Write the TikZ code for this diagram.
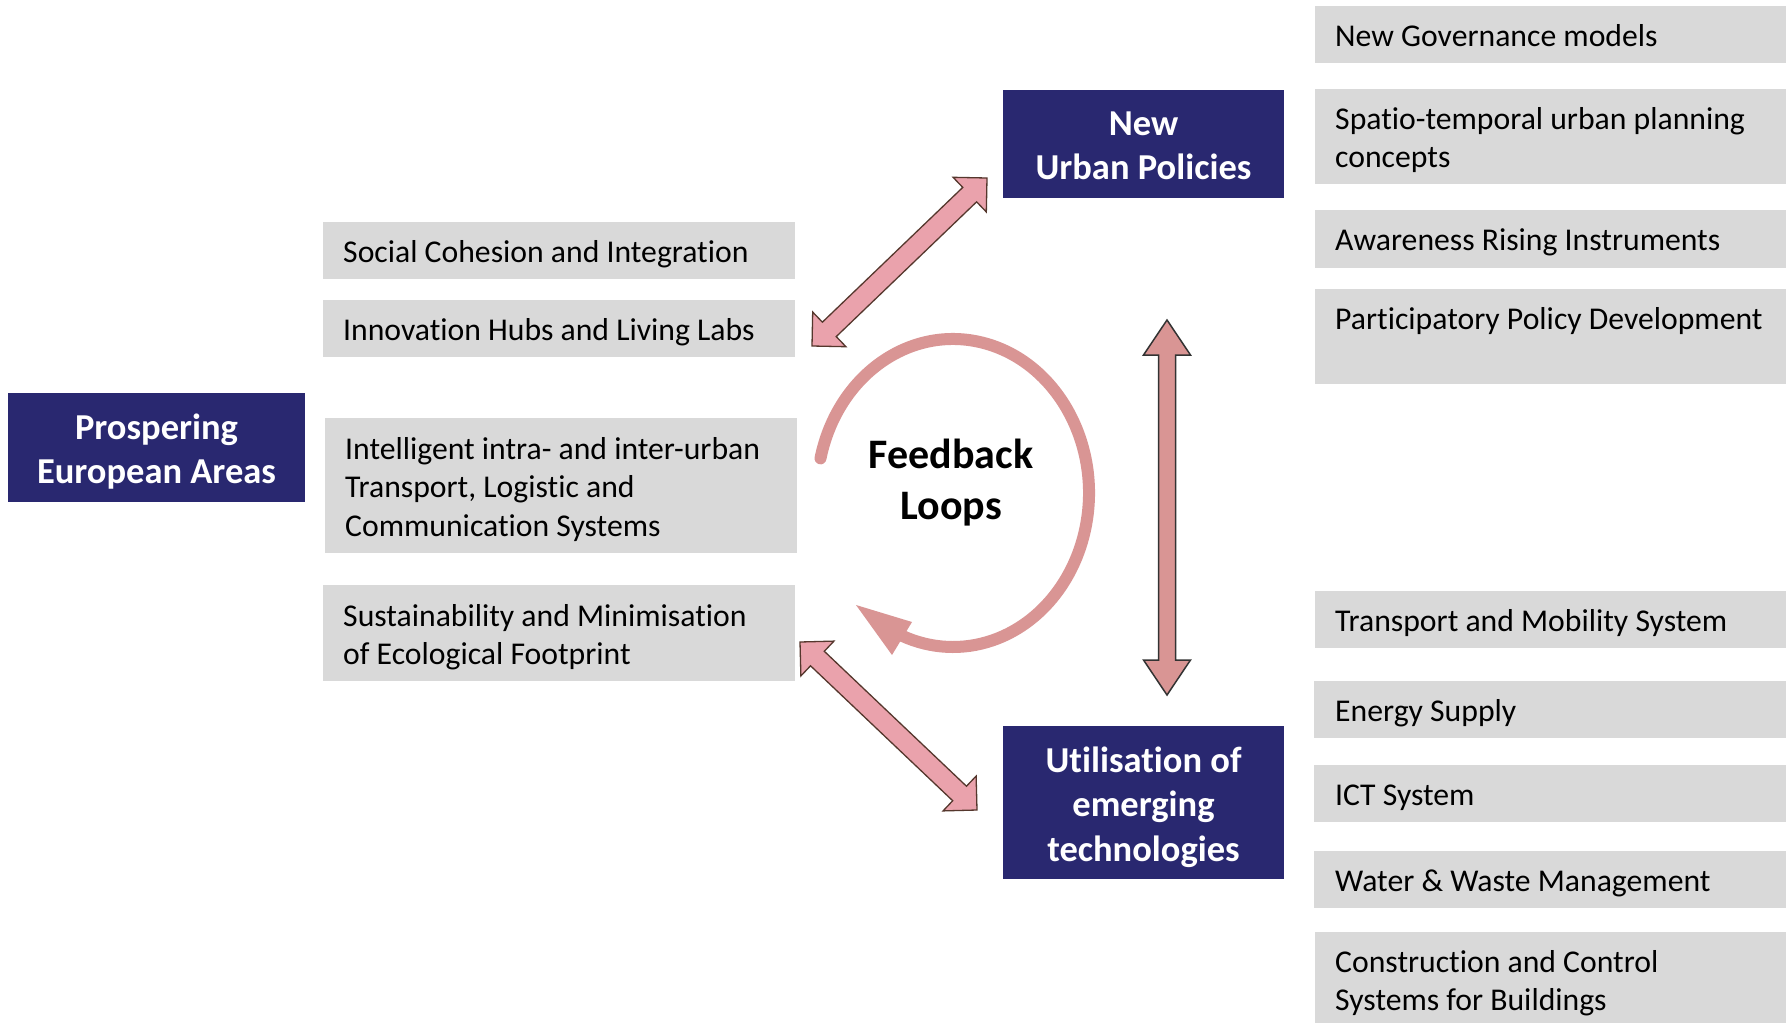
\documentclass[tikz,border=0pt]{standalone}
\usepackage{fontspec}
\setmainfont{Carlito}[Ligatures=NoCommon]
\usetikzlibrary{calc}
\definecolor{navy}{RGB}{41,40,112}
\definecolor{boxgray}{RGB}{217,217,217}
\definecolor{rose}{RGB}{217,149,148}
\definecolor{pinkfill}{RGB}{234,162,172}
\definecolor{arrowedge}{RGB}{85,55,45}
\newcommand\strA{\rule{0pt}{28pt}}
\newcommand\strB{\rule{0pt}{32pt}}
\newcommand\strC{\rule{0pt}{37pt}}
\newcommand\dblarrow[6]{%
  \coordinate (#1h) at ($(#1)!#5!(#2)$);
  \coordinate (#2h) at ($(#2)!#5!(#1)$);
  \draw[#6] (#1) -- ($(#1h)!#4!90:(#2)$) -- ($(#1h)!#3!90:(#2)$)
    -- ($(#2h)!#3!-90:(#1)$) -- ($(#2h)!#4!-90:(#1)$) -- (#2)
    -- ($(#2h)!#4!90:(#1)$) -- ($(#2h)!#3!90:(#1)$)
    -- ($(#1h)!#3!-90:(#2)$) -- ($(#1h)!#4!-90:(#2)$) -- cycle;
}
\tikzset{
  graybox/.style={fill=boxgray, draw=none, inner sep=0pt, outer sep=0pt, anchor=north west},
  bluebox/.style={fill=navy, draw=none, inner sep=0pt, outer sep=0pt, anchor=north west},
  graytext/.style={anchor=north west, inner sep=0pt, align=left, text=black,
    font=\fontsize{31.7}{38.7}\selectfont},
  bluetext/.style={anchor=north, inner sep=0pt, align=center, text=white,
    font=\bfseries\fontsize{36.5}{44.5}\selectfont},
  loopstext/.style={anchor=north, inner sep=0pt, align=center, text=black,
    font=\bfseries\fontsize{42}{51.5}\selectfont},
  diagarrow/.style={fill=pinkfill, draw=arrowedge, line width=1.3pt, line join=miter},
  vertarrow/.style={fill=rose, draw=black!80, line width=1.5pt, line join=miter},
}
\begin{document}
\begin{tikzpicture}[x=1pt,y=-1pt]
\useasboundingbox (0,0) rectangle (1786,1023);
\fill[white] (0,0) rectangle (1786,1023);

% left column boxes
\node[graybox, minimum width=472pt, minimum height=57pt] (social) at (323,222) {};
\node[graybox, minimum width=472pt, minimum height=57pt] (innov) at (323,300) {};
\node[graybox, minimum width=472pt, minimum height=135pt] (intel) at (325,418) {};
\node[graybox, minimum width=472pt, minimum height=96pt] (sustain) at (323,585) {};
\node[graytext] (socialt) at (343,234) {\strA Social Cohesion and Integration};
\node[graytext] (innovt) at (343,312) {\strA Innovation Hubs and Living Labs};
\node[graytext] (intelt) at (345,431) {\strA Intelligent intra- and inter-urban\\Transport, Logistic and\\Communication Systems};
\node[graytext] (sustaint) at (343,598) {\strA Sustainability and Minimisation\\of Ecological Footprint};

% right column boxes
\node[graybox, minimum width=471pt, minimum height=57pt] (gov) at (1315,6) {};
\node[graybox, minimum width=471pt, minimum height=95pt] (spatio) at (1315,89) {};
\node[graybox, minimum width=471pt, minimum height=58pt] (aware) at (1315,210) {};
\node[graybox, minimum width=471pt, minimum height=95pt] (partic) at (1315,289) {};
\node[graybox, minimum width=471pt, minimum height=57pt] (transp) at (1315,591) {};
\node[graybox, minimum width=472pt, minimum height=57pt] (energy) at (1314,681) {};
\node[graybox, minimum width=472pt, minimum height=57pt] (ict) at (1314,765) {};
\node[graybox, minimum width=472pt, minimum height=57pt] (water) at (1314,851) {};
\node[graybox, minimum width=471pt, minimum height=91pt] (constr) at (1315,932) {};
\node[graytext] (govt) at (1335,18) {\strA New Governance models};
\node[graytext] (spatiot) at (1335,101) {\strA Spatio-temporal urban planning\\concepts};
\node[graytext] (awaret) at (1335,222) {\strA Awareness Rising Instruments};
\node[graytext] (partict) at (1335,301) {\strA Participatory Policy Development};
\node[graytext] (transpt) at (1335,603) {\strA Transport and Mobility System};
\node[graytext] (energyt) at (1335,693) {\strA Energy Supply};
\node[graytext] (ictt) at (1335,777) {\strA ICT System};
\node[graytext] (watert) at (1335,863) {\strA Water \& Waste Management};
\node[graytext] (constrt) at (1335,944) {\strA Construction and Control\\Systems for Buildings};

% blue boxes
\node[bluebox, minimum width=297pt, minimum height=109pt] (prosp) at (8,393) {};
\node[bluebox, minimum width=281pt, minimum height=108pt] (policies) at (1003,90) {};
\node[bluebox, minimum width=281pt, minimum height=153pt] (util) at (1003,726) {};
\node[bluetext] (prospt) at (156.5,407) {\strB Prospering\\European Areas};
\node[bluetext] (policiest) at (1143.5,103) {\strB New\\Urban Policies};
\node[bluetext] (utilt) at (1143.5,740) {\strB Utilisation of\\emerging\\technologies};

% feedback loop
\node[loopstext] (loops) at (951,431) {\strC Feedback\\Loops};
\draw[rose, line width=12pt, line cap=round]
  ($(953,493)+(167:136pt and 154pt)$) arc[start angle=167, end angle=-112, x radius=136pt, y radius=154pt];
\fill[rose] (856,605) -- (912,622) -- (892,655) -- cycle;

% arrows
\coordinate (uA) at (812,346);
\coordinate (uB) at (987,178);
\coordinate (lA) at (800,642);
\coordinate (lB) at (977,810);
\coordinate (vA) at (1167,320);
\coordinate (vB) at (1167,695);
\dblarrow{uA}{uB}{10pt}{24pt}{24pt}{diagarrow}
\dblarrow{lA}{lB}{10pt}{24pt}{24pt}{diagarrow}
\dblarrow{vA}{vB}{8.5pt}{23.5pt}{35pt}{vertarrow}
\end{tikzpicture}
\end{document}
